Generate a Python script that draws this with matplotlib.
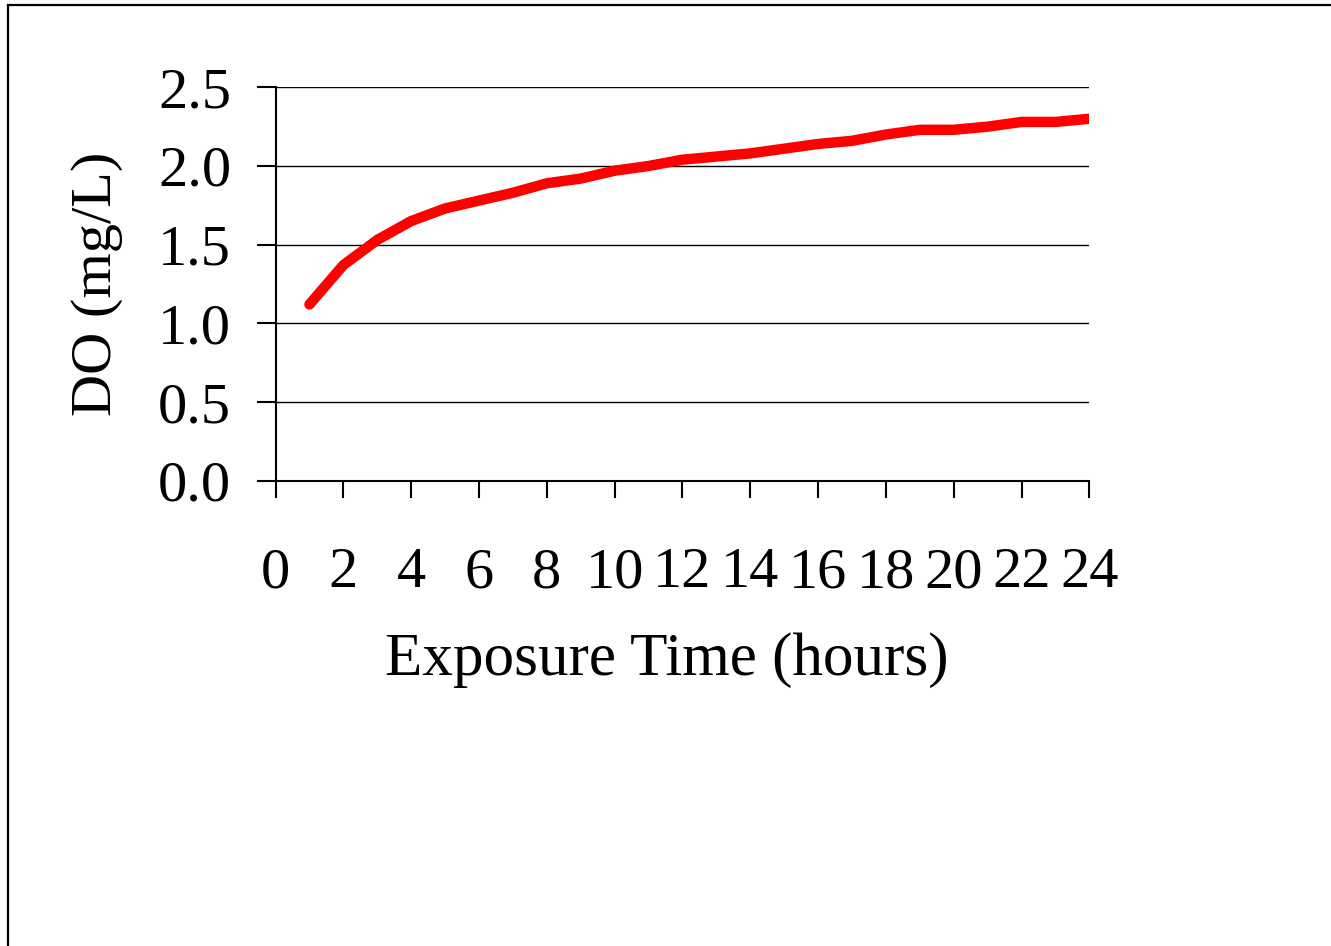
import matplotlib
matplotlib.use("Agg")
import matplotlib.pyplot as plt
from matplotlib.lines import Line2D

# Data
hours = list(range(1, 25))
do_mgl = [1.12, 1.37, 1.53, 1.65, 1.73, 1.78, 1.83, 1.89, 1.92, 1.97,
          2.00, 2.04, 2.06, 2.08, 2.11, 2.14, 2.16, 2.20, 2.23, 2.23,
          2.25, 2.28, 2.28, 2.30]
x_ticks = list(range(0, 25, 2))
y_ticks = [0.0, 0.5, 1.0, 1.5, 2.0, 2.5]

plt.rcParams['font.family'] = ['Liberation Serif', 'DejaVu Serif']

W, H = 1331, 946
fig = plt.figure(figsize=(W / 100, H / 100), dpi=100)
ax = fig.add_axes([275.5 / W, 1 - 480.7 / H, (1089.5 - 275.5) / W, (480.7 - 87.3) / H])

# Chart frame (cut off on right and bottom in the reference)
fig.add_artist(Line2D([7.5 / W, 1.0], [1 - 5 / H, 1 - 5 / H], color='black', lw=1.6,
                      transform=fig.transFigure))
fig.add_artist(Line2D([7.5 / W, 7.5 / W], [1 - 5 / H, 0.0], color='black', lw=1.6,
                      transform=fig.transFigure))

ax.plot(hours, do_mgl, color='#ff0000', lw=7.5, solid_capstyle='round',
        solid_joinstyle='round', zorder=3)

ax.set_xlim(0, 24)
ax.set_ylim(0, 2.5)
ax.set_xticks(x_ticks)
ax.set_xticklabels([str(t) for t in x_ticks])
ax.set_yticks(y_ticks)
ax.set_yticklabels([f'{v:.1f}' for v in y_ticks])

for y in y_ticks[1:]:
    ax.axhline(y, color='black', lw=1.0, zorder=1)

for s in ['top', 'right']:
    ax.spines[s].set_visible(False)
for s in ['left', 'bottom']:
    ax.spines[s].set_linewidth(1.5)

ax.tick_params(axis='x', direction='out', length=12, width=1.5, pad=36, labelsize=42)
ax.tick_params(axis='y', direction='out', length=14, width=1.5, pad=18, labelsize=42)

ax.set_xlabel('Exposure Time (hours)', fontsize=44)
ax.xaxis.set_label_coords(0.481, -0.385)
ax.set_ylabel('DO (mg/L)', fontsize=42, labelpad=25)

fig.savefig('out.png', dpi=100, facecolor='white')
